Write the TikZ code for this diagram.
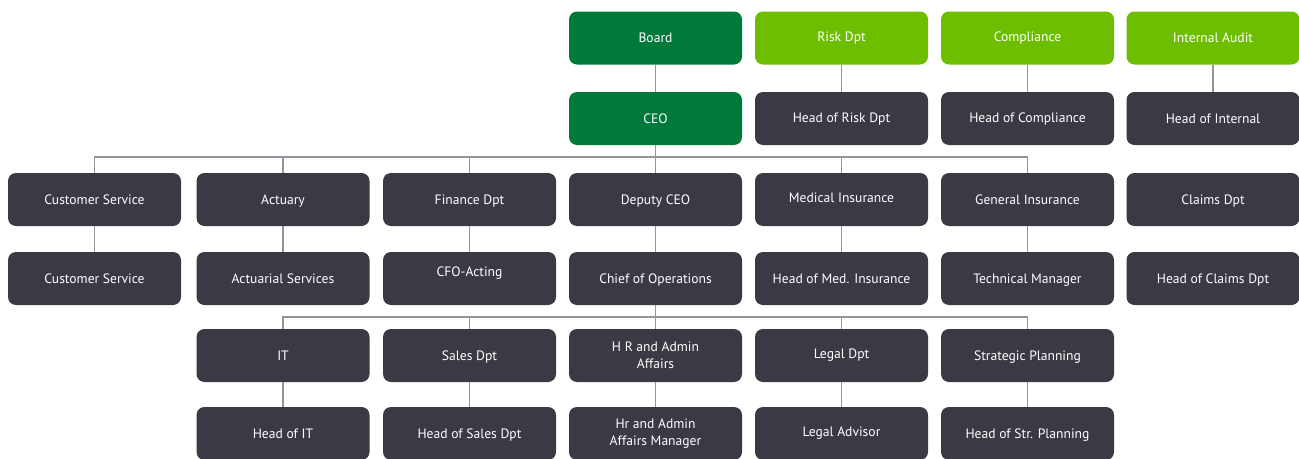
\documentclass[tikz,border=0pt]{standalone}
\usepackage{fontspec}
\setmainfont{PT Sans}
\definecolor{dkgreen}{HTML}{007A3B}
\definecolor{ltgreen}{HTML}{6DBE00}
\definecolor{dkgrey}{HTML}{393A43}
\definecolor{linegrey}{HTML}{93959C}
\begin{document}
\begin{tikzpicture}[x=1pt,y=-1pt,
  box/.style={rectangle, rounded corners=8pt, minimum width=173pt, minimum height=53pt,
    inner sep=0pt, text=white, font=\fontsize{13.6}{17}\selectfont, align=center},
  one/.style={text height=12pt, text depth=2.4pt},
  gbox/.style={box, one, fill=dkgreen},
  lbox/.style={box, one, fill=ltgreen},
  dbox/.style={box, one, fill=dkgrey},
  mbox/.style={box, fill=dkgrey},
  conn/.style={draw=linegrey, line width=1.1pt}]
\useasboundingbox (0,0) rectangle (1299,458);
% columns
\def\ca{94.5}\def\cb{283}\def\cc{469.5}\def\cd{655.5}\def\ce{841.5}\def\cf{1027.5}\def\cg{1213}
% rows
\def\ra{38}\def\rb{118.5}\def\rc{199.5}\def\rd{278.5}\def\re{355.5}\def\rf{433.5}
\coordinate (b1) at (\cd,157);
\coordinate (b2) at (\cd,317);
% nodes
\node[gbox] (board) at (\cd,\ra) {Board};
\node[lbox] (risk) at (\ce,\ra) {\raisebox{1.5pt}{Risk Dpt}};
\node[lbox] (comp) at (\cf,\ra) {\raisebox{1.5pt}{Compliance}};
\node[lbox] (audit) at (\cg,\ra) {Internal Audit};
\node[gbox] (ceo) at (\cd,\rb) {CEO};
\node[dbox] (hrisk) at (\ce,\rb) {\raisebox{1pt}{Head of Risk Dpt}};
\node[dbox] (hcomp) at (\cf,\rb) {\raisebox{1pt}{Head of Compliance}};
\node[dbox] (haudit) at (\cg,\rb) {Head of Internal};
\node[dbox] (cs) at (\ca,\rc) {Customer Service};
\node[dbox] (act) at (\cb,\rc) {Actuary};
\node[dbox] (fin) at (\cc,\rc) {Finance Dpt};
\node[dbox] (dep) at (\cd,\rc) {Deputy CEO};
\node[dbox] (med) at (\ce,\rc) {\raisebox{1.5pt}{Medical Insurance}};
\node[dbox] (gen) at (\cf,\rc) {General Insurance};
\node[dbox] (claims) at (\cg,\rc) {Claims Dpt};
\node[dbox] (cs2) at (\ca,\rd) {Customer Service};
\node[dbox] (actsv) at (\cb,\rd) {Actuarial Services};
\node[dbox] (cfo) at (\cc,\rd) {\raisebox{7pt}{CFO-Acting}};
\node[dbox] (coo) at (\cd,\rd) {Chief of Operations};
\node[dbox] (hmed) at (\ce,\rd) {Head of Med. Insurance};
\node[dbox] (tech) at (\cf,\rd) {Technical Manager};
\node[dbox] (hclaims) at (\cg,\rd) {Head of Claims Dpt};
\node[dbox] (it) at (\cb,\re) {IT};
\node[dbox] (sales) at (\cc,\re) {Sales Dpt};
\node[mbox] (hr) at (\cd,\re) {H R and Admin\\Affairs};
\node[dbox] (legal) at (\ce,\re) {\raisebox{1.5pt}{Legal Dpt}};
\node[dbox] (strat) at (\cf,\re) {Strategic Planning};
\node[dbox] (hit) at (\cb,\rf) {Head of IT};
\node[dbox] (hsales) at (\cc,\rf) {Head of Sales Dpt};
\node[mbox] (hhr) at (\cd,\rf) {Hr and Admin\\Affairs Manager};
\node[dbox] (ladv) at (\ce,\rf) {\raisebox{1.5pt}{Legal Advisor}};
\node[dbox] (hstrat) at (\cf,\rf) {Head of Str. Planning};
% connectors
\begin{scope}[conn]
\draw (board) -- (ceo);
\draw (risk) -- (hrisk);
\draw (comp) -- (hcomp);
\draw (audit) -- (haudit);
\draw (ceo) -- (dep);
\draw (cs.north) |- (b1) -| (gen.north);
\draw (act.north) -- (act.north |- b1);
\draw (fin.north) -- (fin.north |- b1);
\draw (med.north) -- (med.north |- b1);
\draw (cs) -- (cs2);
\draw (act) -- (actsv);
\draw (fin) -- (cfo);
\draw (dep) -- (coo);
\draw (med) -- (hmed);
\draw (gen) -- (tech);
\draw (coo) -- (hr);
\draw (it.north) |- (b2) -| (strat.north);
\draw (sales.north) -- (sales.north |- b2);
\draw (legal.north) -- (legal.north |- b2);
\draw (it) -- (hit);
\draw (sales) -- (hsales);
\draw (hr) -- (hhr);
\draw (legal) -- (ladv);
\draw (strat) -- (hstrat);
\end{scope}
\end{tikzpicture}
\end{document}
